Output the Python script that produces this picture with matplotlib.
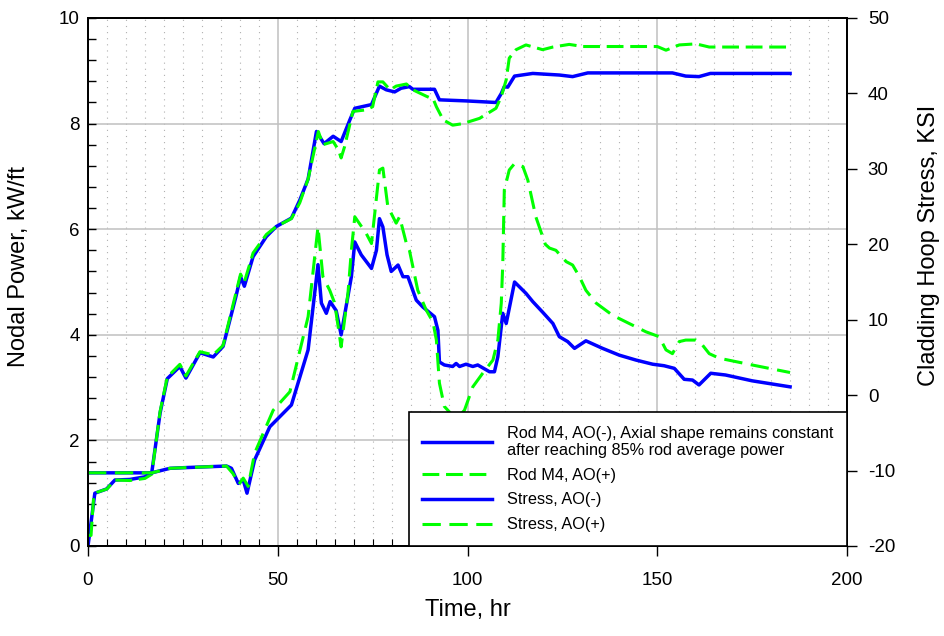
import matplotlib
matplotlib.use('Agg')
import matplotlib.pyplot as plt
from matplotlib.ticker import MultipleLocator

plt.rcParams['font.family'] = ['Liberation Sans', 'DejaVu Sans']
plt.rcParams['axes.unicode_minus'] = False

# ---- Nodal power, kW/ft (left axis) ----
t_pow_neg = [0, 1.8, 4.9, 7.1, 11, 15, 16.8, 19, 20.9, 24.2, 25.8, 29.5, 33, 35.6,
             39, 40.2, 41.2, 43.5, 47, 49.6, 53.6, 55.8, 58, 60.2, 62.2, 64.6, 66.7,
             69, 70.3, 74.7, 76.8, 78.6, 80.8, 82.5, 84.7, 85.6, 91.3, 92.6, 99.6,
             107.5, 108.9, 109.7, 110.6, 112.4, 117.2, 124.2, 127.7, 131.7, 154,
             157.5, 161, 164, 185]
pow_neg = [0, 1.0, 1.08, 1.25, 1.26, 1.31, 1.39, 2.52, 3.17, 3.40, 3.18, 3.66, 3.58, 3.78,
           4.73, 5.10, 4.92, 5.48, 5.86, 6.05, 6.21, 6.55, 6.95, 7.85, 7.62, 7.76, 7.66,
           8.07, 8.29, 8.36, 8.71, 8.64, 8.60, 8.67, 8.70, 8.65, 8.65, 8.45, 8.43,
           8.40, 8.57, 8.70, 8.69, 8.90, 8.95, 8.92, 8.89, 8.96, 8.96,
           8.90, 8.89, 8.95, 8.95]

t_pow_pos = [0, 0.8, 1.5, 2.5, 5, 7, 11, 15, 16.8, 19, 20.9, 24.2, 25.8, 29.5, 33, 35.6,
             39, 40.2, 41.2, 43.5, 47, 49.6, 53.6, 55.8, 58, 60.7, 61.9, 64.6, 66,
             66.7, 67.6, 69.8, 73.3, 75, 76.4, 77.7, 79.6, 81.2, 83.9, 85.6, 89.1, 91,
             91.8, 93.6, 96.1, 98.8, 103.2, 107.5, 108.9, 110.2, 111, 112.8, 115.4,
             119.8, 122.5, 126.8, 130.4, 150, 152.3, 155.8, 160.2, 163.7, 185]
pow_pos = [0.2, 0.2, 0.95, 1.02, 1.08, 1.25, 1.24, 1.28, 1.36, 2.55, 3.2, 3.44, 3.22, 3.68,
           3.62, 3.8, 4.8, 5.15, 5.0, 5.55, 5.9, 6.05, 6.2, 6.5, 6.95, 7.85, 7.6, 7.66,
           7.5, 7.35, 7.56, 8.23, 8.26, 8.32, 8.79, 8.79, 8.64, 8.71, 8.75, 8.64, 8.52,
           8.46, 8.32, 8.07, 7.97, 8.0, 8.1, 8.29, 8.51, 8.83, 9.24, 9.4, 9.49,
           9.40, 9.45, 9.50, 9.46, 9.46, 9.39, 9.49, 9.51, 9.45, 9.45]

# ---- Cladding hoop stress, KSI (right axis) ----
t_str_neg = [0, 16.8, 21.6, 26, 36.5, 37.8, 39.6, 40.9, 41.9, 43.9, 47.9, 53.6, 58,
             60.6, 61.5, 62.8, 63.8, 65.4, 66.7, 69.4, 70.3, 72, 74.7, 76, 76.8, 77.7,
             78.8, 79.9, 81.7, 83, 84.3, 86.5, 88.2, 91.3, 92.2, 92.6, 93.9, 96.1, 97,
             97.9, 99.6, 101.4, 102.7, 105.8, 107.1, 108, 109.3, 110.2, 112.4, 115.4,
             117.2, 119.8, 122.5, 124.2, 126.4, 128.2, 131.2, 135.6, 140, 144.4,
             148.8, 151.8, 154.5, 157.1, 159.3, 161, 164.1, 168, 175, 185]
str_neg = [-10.3, -10.3, -9.7, -9.6, -9.4, -9.7, -11.7, -11.25, -13.0, -8.6, -4.2, -1.3, 6.0,
           17.3, 12.2, 10.85, 12.4, 11.2, 8.0, 15.7, 20.3, 18.6, 16.8, 19.2, 23.4, 22.3,
           18.6, 16.4, 17.25, 15.7, 15.7, 12.6, 11.7, 10.4, 8.6, 4.4, 4.0, 3.8, 4.2,
           3.8, 4.1, 3.8, 4.0, 3.1, 3.1, 5.1, 10.85, 9.5, 15.0, 13.5,
           12.4, 11.0, 9.5, 7.75, 7.1, 6.2, 7.2, 6.2, 5.3, 4.65,
           4.1, 3.9, 3.55, 2.1, 2.0, 1.35, 2.9, 2.67, 1.9, 1.1]

t_str_pos = [0, 16.8, 21.6, 26, 36.5, 38.2, 39.8, 40.9, 42.2, 43.9, 48.8, 53.2, 58,
             60.6, 61.9, 63.7, 65, 66.7, 68.5, 69.4, 70.3, 73.3, 74.7, 76.8, 77.7, 79,
             81.2, 82.1, 83.9, 84.7, 86.9, 89.1, 90.9, 91.8, 92.6, 93.9, 97, 99.2,
             101.4, 104, 106.7, 108, 108.9, 109.3, 109.7, 111, 112.4, 114.6, 115.9,
             118, 120.5, 121.6, 123.3, 126, 127.7, 129.5, 131.2, 133.9, 138.2, 142.6,
             147, 150.5, 152.3, 154, 155.8, 157.5, 160.2, 161.5, 163.7, 166.3, 175, 185]
str_pos = [-10.3, -10.3, -9.7, -9.6, -9.4, -10.4, -11.8, -11.0, -12.1, -7.7, -2.0, 0.45, 10.4,
           22.3, 15.7, 13.9, 12.2, 6.4, 13.5, 19.2, 23.65, 21.45, 20.1, 29.85, 30.1, 25.0,
           22.8, 23.65, 20.1, 19.2, 13.9, 11.3, 9.7, 7.3, 1.6, -1.5, -3.2, -2.0,
           1.1, 2.9, 4.65, 7.3, 12.2, 17.5, 27.2, 29.85, 30.7, 30.3, 28.5,
           23.65, 20.0, 19.5, 19.2, 17.7, 17.25, 15.7, 13.9, 12.2, 10.6, 9.5,
           8.4, 7.75, 6.0, 5.5, 7.1, 7.3, 7.3, 6.9, 5.5, 4.9, 4.0, 3.0]

BLUE = '#0000ff'
GREEN = '#00ff00'


def create_figure(save_path='out.png'):
    fig = plt.figure(figsize=(9.45, 6.36), dpi=100)
    ax = fig.add_axes([88 / 945, 90 / 636, 759 / 945, 528 / 636])
    ax2 = ax.twinx()

    # ---- grid ----
    ax.set_axisbelow(True)
    ax.xaxis.set_major_locator(MultipleLocator(50))
    ax.xaxis.set_minor_locator(MultipleLocator(5))
    ax.yaxis.set_major_locator(MultipleLocator(2))
    ax.yaxis.set_minor_locator(MultipleLocator(0.4))
    ax.grid(True, which='major', color='#c0c0c0', linewidth=1.1)
    ax.grid(True, which='minor', axis='x', color='#b0b0b0',
            linewidth=0.8, linestyle=(0, (1, 4.5)))

    # ---- power curves ----
    l1, = ax.plot(t_pow_neg, pow_neg, color=BLUE, lw=2.5,
                  label='Rod M4, AO(-), Axial shape remains constant\n'
                        'after reaching 85% rod average power')
    l2, = ax.plot(t_pow_pos, pow_pos, color=GREEN, lw=2.2, dashes=(5.5, 2.2),
                  label='Rod M4, AO(+)')

    # ---- stress curves ----
    l3, = ax2.plot(t_str_neg, str_neg, color=BLUE, lw=2.5, label='Stress, AO(-)')
    l4, = ax2.plot(t_str_pos, str_pos, color=GREEN, lw=2.2, dashes=(6, 2.8),
                   label='Stress, AO(+)')

    # ---- axes ----
    ax.set_xlim(0, 200)
    ax.set_ylim(0, 10)
    ax2.set_ylim(-20, 50)
    ax2.yaxis.set_major_locator(MultipleLocator(10))

    ax.tick_params(axis='x', which='major', direction='out', length=7,
                   width=1, labelsize=13.5, pad=12)
    ax.tick_params(axis='x', which='minor', direction='in', length=5, width=0.8)
    ax.tick_params(axis='y', which='both', direction='in', length=6, width=1,
                   labelsize=13.5, pad=6)
    ax2.tick_params(axis='y', direction='out', length=7, width=1,
                    labelsize=13.5, pad=8)
    for a in (ax, ax2):
        for s in a.spines.values():
            s.set_linewidth(1.3)

    ax.set_xlabel('Time, hr', fontsize=17)
    ax.set_ylabel('Nodal Power, kW/ft', fontsize=17)
    ax2.set_ylabel('Cladding Hoop Stress, KSI', fontsize=17)
    ax.xaxis.set_label_coords(0.5, -0.1)
    ax.yaxis.set_label_coords(-0.077, 0.53)
    ax2.yaxis.set_label_coords(1.094, 0.57)

    leg = ax2.legend(handles=[l1, l2, l3, l4], loc='lower right',
                     bbox_to_anchor=(1, 0), borderaxespad=0, fontsize=11.7,
                     handlelength=4.3, handletextpad=0.9, fancybox=False,
                     framealpha=1, edgecolor='black', borderpad=0.85,
                     labelspacing=0.6)
    leg.get_frame().set_linewidth(1.2)

    fig.savefig(save_path, dpi=100, facecolor='white')
    plt.close(fig)


if __name__ == '__main__':
    create_figure()
